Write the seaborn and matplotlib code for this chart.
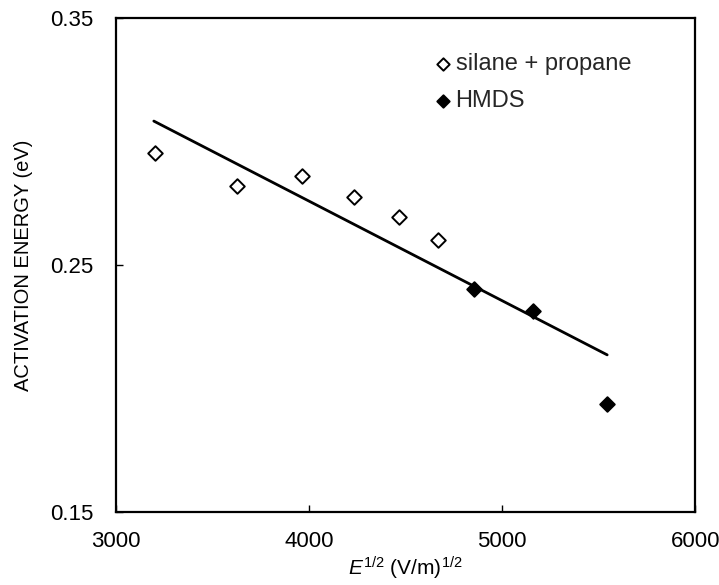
import matplotlib
matplotlib.use("Agg")
import matplotlib.pyplot as plt
import seaborn as sns

# Data
silane_x = [3202, 3627, 3964, 4233, 4466, 4668]
silane_y = [0.2952, 0.2821, 0.2859, 0.2777, 0.2693, 0.2601]
hmds_x = [4855, 5161, 5544]
hmds_y = [0.2402, 0.2315, 0.1937]
fit_x = [3197, 5544]
fit_y = [0.3083, 0.2136]

x_ticks = [3000, 4000, 5000, 6000]
y_ticks = [0.15, 0.25, 0.35]
y_tick_labels = ["0.15", "0.25", "0.35"]

sns.set_theme(style="white")
plt.rcParams['font.family'] = ['Liberation Sans', 'DejaVu Sans']
plt.rcParams['mathtext.fontset'] = 'custom'
plt.rcParams['mathtext.it'] = 'Liberation Sans:italic'
plt.rcParams['mathtext.rm'] = 'Liberation Sans'

fig = plt.figure(figsize=(7.19, 5.85), dpi=100)
ax = fig.add_axes([0.161, 0.125, 0.806, 0.844])

sns.lineplot(x=fit_x, y=fit_y, ax=ax, color="black", linewidth=2.0, legend=False)
sns.scatterplot(x=silane_x, y=silane_y, ax=ax, marker="D", s=55,
                facecolor="white", edgecolor="black", linewidth=1.4,
                label="silane + propane", zorder=3)
sns.scatterplot(x=hmds_x, y=hmds_y, ax=ax, marker="D", s=55,
                color="black", edgecolor="black", linewidth=1.4,
                label="HMDS", zorder=3)

ax.set_xlim(3000, 6000)
ax.set_ylim(0.15, 0.35)
ax.set_xticks(x_ticks)
ax.set_xticklabels([str(t) for t in x_ticks])
ax.set_yticks(y_ticks)
ax.set_yticklabels(y_tick_labels)
ax.tick_params(axis="both", direction="in", length=5, width=1.0,
               labelsize=16, colors="black", bottom=True, left=True)
ax.tick_params(axis="x", pad=14)
ax.tick_params(axis="y", pad=16)

for sp in ax.spines.values():
    sp.set_visible(True)
    sp.set_color("black")
    sp.set_linewidth(1.6)

ax.set_xlabel(r"$E^{1/2}$ (V/m)$^{1/2}$", fontsize=15, color="black", labelpad=2)
ax.set_ylabel("ACTIVATION ENERGY (eV)", fontsize=14.5, color="black", labelpad=12)

ax.legend(loc="upper left", bbox_to_anchor=(0.515, 0.962), frameon=False,
          fontsize=17, handletextpad=0.05, handlelength=1.0, labelspacing=0.62,
          borderaxespad=0.3, markerscale=0.85)

fig.savefig("out.png", dpi=100)
